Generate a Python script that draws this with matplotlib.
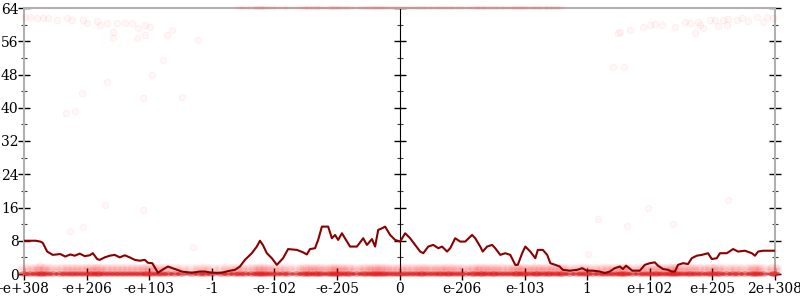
import matplotlib
matplotlib.use("Agg")
import matplotlib.pyplot as plt
import numpy as np
from matplotlib.path import Path
from matplotlib.transforms import Affine2D

# tick positions are evenly spaced on a symbolic axis, labels as printed
tick_labels = ["-e+308", "-e+206", "-e+103", "-1", "-e-102", "-e-205", "0",
               "e-206", "e-103", "1", "e+102", "e+205", "2e+308"]

# running line (position in tick units, value)
line_x = [0.00, 0.10, 0.19, 0.26, 0.30, 0.37, 0.46, 0.58, 0.66, 0.74, 0.81, 0.89,
          0.97, 1.05, 1.10, 1.17, 1.21, 1.29, 1.37, 1.45, 1.53, 1.61, 1.69, 1.77,
          1.85, 1.93, 1.98, 2.05, 2.14, 2.21, 2.30, 2.41, 2.52, 2.68, 2.81, 2.89,
          3.00, 3.16, 3.26, 3.37, 3.45, 3.53, 3.64, 3.72, 3.77, 3.82, 3.88, 3.96,
          4.04, 4.14, 4.22, 4.36, 4.46, 4.52, 4.57, 4.65, 4.70, 4.76, 4.86, 4.92,
          4.97, 5.02, 5.08, 5.16, 5.21, 5.32, 5.42, 5.48, 5.56, 5.61, 5.66, 5.72,
          5.77, 5.85, 5.93, 6.01, 6.09, 6.17, 6.25, 6.33, 6.38, 6.46, 6.54, 6.62,
          6.68, 6.76, 6.81, 6.89, 6.97, 7.05, 7.16, 7.21, 7.29, 7.33, 7.40, 7.48,
          7.53, 7.61, 7.69, 7.77, 7.85, 7.89, 7.96, 8.01, 8.09, 8.17, 8.21, 8.29,
          8.36, 8.41, 8.49, 8.56, 8.61, 8.72, 8.84, 8.92, 8.99, 9.09, 9.20, 9.28,
          9.36, 9.44, 9.52, 9.57, 9.62, 9.72, 9.84, 9.92, 10.00, 10.08, 10.13,
          10.21, 10.29, 10.35, 10.40, 10.45, 10.53, 10.61, 10.67, 10.75, 10.83,
          10.93, 10.99, 11.07, 11.12, 11.23, 11.33, 11.41, 11.52, 11.63, 11.68,
          11.73, 11.81, 11.97, 12.00]
line_y = [8.0, 8.0, 8.0, 7.8, 7.5, 5.4, 4.6, 4.8, 4.2, 4.7, 4.4, 4.9,
          4.3, 4.5, 5.0, 3.6, 3.4, 4.0, 4.4, 4.6, 4.0, 4.5, 4.0, 3.4,
          3.2, 3.4, 2.7, 2.6, 0.3, 1.0, 1.8, 1.2, 0.6, 0.3, 0.6, 0.6,
          0.3, 0.3, 0.7, 1.0, 1.8, 3.4, 5.0, 6.6, 8.0, 6.9, 5.0, 3.8,
          2.2, 3.8, 6.0, 5.8, 5.2, 4.7, 6.0, 6.2, 8.2, 11.4, 11.4, 8.6,
          9.4, 8.2, 9.8, 7.8, 6.6, 6.6, 8.6, 7.0, 8.4, 6.6, 10.6, 11.0,
          11.4, 9.4, 8.2, 7.8, 9.8, 8.6, 7.0, 5.4, 5.0, 6.6, 7.0, 6.2,
          6.6, 5.4, 6.2, 8.6, 7.8, 7.8, 9.4, 8.6, 6.6, 5.4, 6.6, 7.0,
          6.2, 4.6, 5.0, 4.6, 2.2, 2.2, 5.0, 6.6, 5.4, 3.8, 5.8, 5.8,
          4.6, 2.6, 2.2, 1.8, 1.0, 0.8, 1.0, 1.4, 0.8, 0.8, 0.6, 0.2,
          0.6, 1.4, 1.8, 1.2, 2.0, 0.8, 0.8, 2.2, 2.6, 2.8, 2.0,
          1.2, 1.0, 0.6, 0.6, 2.2, 2.6, 2.4, 3.8, 4.4, 4.6,
          5.0, 3.6, 3.8, 5.0, 5.0, 6.0, 5.4, 5.6, 5.0, 4.4,
          5.4, 5.6, 5.6, 5.6]

# sparse faint points
pts_x = [0.02, 0.10, 0.21, 0.30, 0.38, 0.53, 0.69, 0.77, 0.94, 1.01, 1.17, 1.21,
         1.33, 1.49, 1.61, 1.73, 1.82, 1.93, 2.01, 1.42, 1.42, 1.81, 1.93, 2.29,
         2.36, 2.78, 2.22, 2.05, 1.33, 0.93, 1.90, 2.52, 1.29, 1.90, 0.94, 0.74,
         2.70, 0.26, 0.67, 0.81,
         9.49, 9.52, 9.68, 9.89, 10.00, 10.08, 10.19, 10.40, 10.56, 10.64, 10.77,
         10.80, 10.85, 10.72, 10.96, 11.04, 11.09, 11.17, 11.23, 11.25, 11.39,
         11.47, 11.57, 11.71, 11.81, 11.87, 11.97, 9.41, 9.59, 9.97, 10.37, 9.64,
         9.17, 9.01, 11.25]
pts_y = [61.8, 61.8, 61.6, 61.6, 61.6, 61.1, 61.6, 61.1, 61.1, 60.4, 60.9, 59.9,
         60.4, 60.4, 60.4, 60.4, 59.2, 59.9, 59.4, 58.2, 56.8, 56.8, 57.5, 57.5,
         58.7, 56.3, 51.5, 47.9, 46.2, 43.6, 42.3, 42.6, 16.6, 15.4, 11.3, 10.3,
         6.5, 2.2, 38.7, 39.2,
         58.0, 58.2, 58.7, 59.4, 59.9, 60.2, 59.9, 59.4, 60.6, 60.4, 60.6,
         59.9, 59.2, 58.0, 61.1, 61.1, 59.7, 61.1, 59.9, 61.4, 61.1,
         61.6, 60.9, 61.8, 60.6, 61.8, 61.6, 49.8, 49.8, 15.9, 12.0, 11.5,
         13.2, 4.8, 17.8]

# dense bands of points at the bottom (near 0) and along 64 in the middle
band_levels = [0.5, 0.9, 1.3, 1.7]
top_from, top_to = 3.45, 8.56

# wide flat blob so overlapping points merge into a continuous band
circ = Path.unit_circle()
blob = Path(Affine2D().scale(2.2, 1.0).transform(circ.vertices), circ.codes)

fig = plt.figure(figsize=(8, 3), dpi=100)
ax = fig.add_axes([24 / 800, 26 / 300, 751 / 800, 266 / 300])

lx = np.array(line_x)
for lev in band_levels:
    ax.scatter(lx, np.full(lx.size, lev), s=110, marker=blob,
               facecolor=(1, 0, 0, 0.045), edgecolor="none", clip_on=False, zorder=3)
ax.scatter(lx, np.zeros(lx.size), s=70, marker=blob,
           facecolor=(0.9, 0.1, 0.1, 0.5), edgecolor="none", clip_on=False, zorder=3)
top_x = lx[(lx >= top_from) & (lx <= top_to)]
ax.scatter(top_x, np.full(top_x.size, 64.0), s=60, marker=blob,
           facecolor=(1, 0, 0, 0.05), edgecolor="none", clip_on=False, zorder=3)
ax.scatter(pts_x, pts_y, s=22, facecolor=(1, 0, 0, 0.03),
           edgecolor=(1, 0, 0, 0.06), linewidth=0.6, clip_on=False, zorder=3)

ax.plot(line_x, line_y, color="#8b0000", lw=1.5, zorder=4)

ax.set_xlim(0, 12)
ax.set_ylim(0, 64)
ax.set_xticks(range(len(tick_labels)))
ax.set_xticklabels(tick_labels)
ax.set_yticks(range(0, 65, 8))
ax.set_yticks(range(4, 64, 8), minor=True)

for side in ["left", "right", "top", "bottom"]:
    ax.spines[side].set_color("#b0b0b0")
    ax.spines[side].set_linewidth(1.5)

ax.tick_params(axis="both", which="major", direction="inout", length=8, width=1,
               color="black", labelsize=10)
ax.tick_params(axis="x", pad=2)
ax.tick_params(axis="y", pad=0)
ax.tick_params(axis="y", which="minor", direction="inout", length=4, width=0.8,
               color="#404040", right=True)
ax.tick_params(axis="y", right=True)
ax.tick_params(axis="x", top=False)

# middle axis at 0
mid = ax.secondary_yaxis(0.5)
mid.spines["left"].set_color("#b0b0b0")
mid.spines["left"].set_linewidth(1.5)
mid.set_yticks(range(0, 65, 8), labels=[""] * 9)
mid.set_yticks(range(4, 64, 8), minor=True)
mid.tick_params(which="major", direction="inout", length=8, width=1, color="black")
mid.tick_params(which="minor", direction="inout", length=4, width=0.8, color="#404040")

for lbl in ax.get_xticklabels() + ax.get_yticklabels():
    lbl.set_family("DejaVu Serif")

fig.savefig("out.png", dpi=100)
